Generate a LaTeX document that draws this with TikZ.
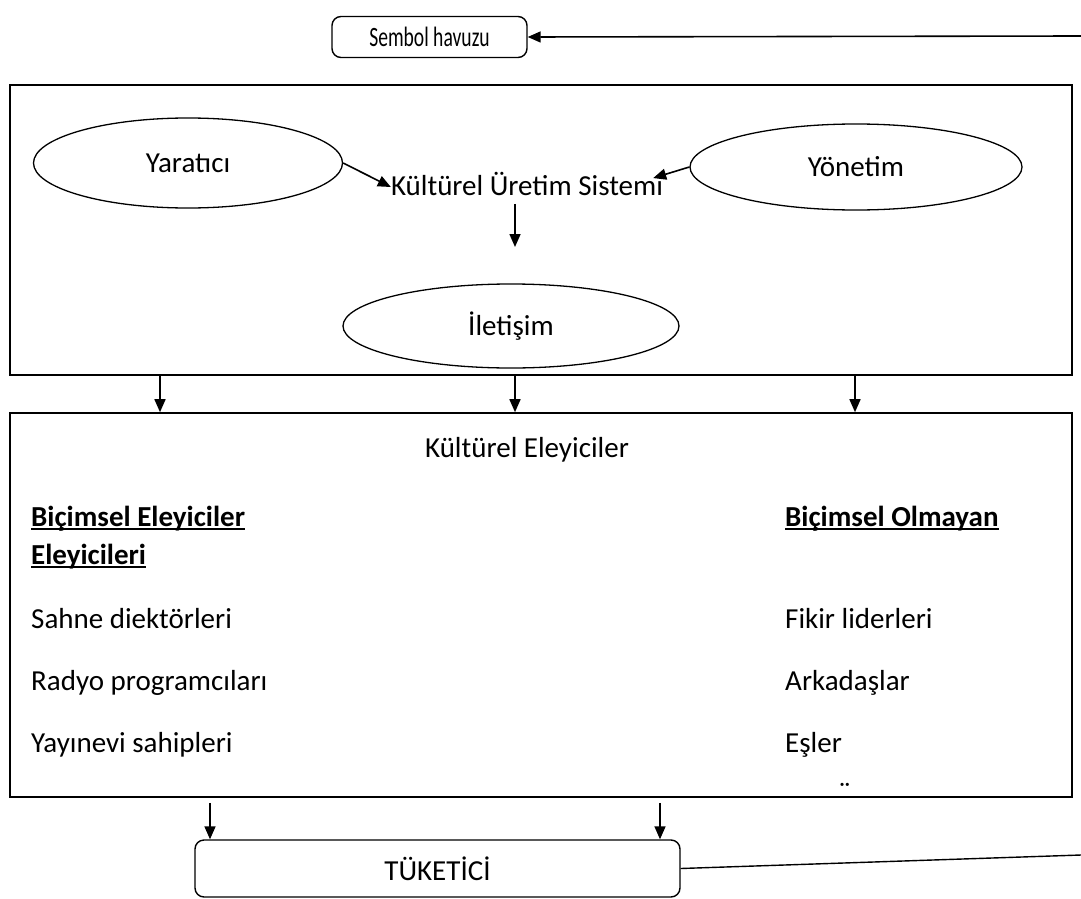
\documentclass[tikz,border=0pt]{standalone}
\usepackage{fontspec}
\setmainfont{Carlito}
\usetikzlibrary{shapes.geometric,arrows.meta}
\tikzset{
  kutu/.style={draw, line width=1.6pt, inner sep=0pt},
  yuvarlak/.style={draw, rounded corners=9pt, line width=1.4pt, inner sep=0pt},
  elips/.style={draw, ellipse, line width=1.3pt, inner sep=0pt},
  oklu/.style={line width=1.6pt, -{Triangle[length=13pt,width=11pt]}},
  yazi/.style={font=\fontsize{29}{35}\selectfont, inner sep=0pt},
}
\newcommand{\cizili}[1]{\setbox0\hbox{#1}\rlap{\rule[-4pt]{\wd0}{1.8pt}}\box0}
\begin{document}
\begin{tikzpicture}[x=1pt,y=-1pt]
\useasboundingbox (0,0) rectangle (1081,899);
% ust kisim
\node[yuvarlak, font=\fontsize{28}{32}\selectfont, minimum width=195pt, minimum height=41pt] (havuz) at (429.5,37) {\scalebox{0.7}[1]{Sembol havuzu}};
\coordinate (sagust) at (1081,36);
\draw[oklu] (sagust) -- (havuz.east);
\node[kutu, minimum width=1062pt, minimum height=290pt] (sistemkutu) at (541,230) {};
\node[elips, yazi, minimum width=309pt, minimum height=90pt] (yaratici) at (188,163) {Yaratıcı};
\node[elips, yazi, minimum width=332pt, minimum height=86pt] (yonetim) at (856,167) {Yönetim};
\node[yazi] (sistem) at (527,184) {Kültürel Üretim Sistemi};
\draw[oklu] (yaratici.east) -- ([yshift=-3pt]sistem.west);
\draw[oklu] (yonetim.west) -- ([xshift=-10pt,yshift=-6pt]sistem.north east);
\node[elips, yazi, minimum width=336pt, minimum height=84pt] (iletisim) at (511,326) {İletişim};
\coordinate (asagi) at (515,247);
\draw[oklu] ([yshift=-8pt]sistem.south -| asagi) -- (asagi);
% eleyiciler
\node[kutu, minimum width=1062pt, minimum height=384pt] (eleyici) at (541,605) {};
\foreach \x in {160,515,855}
  \draw[oklu] (sistemkutu.south -| \x,0) -- (eleyici.north -| \x,0);
\node[yazi, anchor=base] (baslik) at (527,457) {Kültürel Eleyiciler};
\node[yazi, anchor=base west] (bicimsel) at (31,526) {\bfseries\cizili{Biçimsel Eleyiciler}};
\node[yazi, anchor=base west] (bicimsel2) at (31,564) {\bfseries\cizili{Eleyicileri}};
\node[yazi, anchor=base west] (sahne) at (31,628) {Sahne diektörleri};
\node[yazi, anchor=base west] (radyo) at (31,690) {Radyo programcıları};
\node[yazi, anchor=base west] (yayinevi) at (31,752) {Yayınevi sahipleri};
\node[yazi, anchor=base west] (olmayan) at (785,526) {\bfseries\cizili{Biçimsel Olmayan}};
\node[yazi, anchor=base west] (fikir) at (785,628) {Fikir liderleri};
\node[yazi, anchor=base west] (arkadas) at (785,690) {Arkadaşlar};
\node[yazi, anchor=base west] (esler) at (785,752) {Eşler};
\node[yazi, anchor=base west] (nokta) at (839,802) {¨};
% tuketici
\node[yuvarlak, yazi, minimum width=485pt, minimum height=57pt] (tuketici) at (437.5,868.5) {TÜKETİCİ};
\foreach \x in {210,660}
  \draw[oklu] ([yshift=-5pt]eleyici.south -| \x,0) -- (tuketici.north -| \x,0);
\coordinate (sagalt) at (1081,855);
\draw[line width=1.4pt] (tuketici.east) -- (sagalt);
\end{tikzpicture}
\end{document}
